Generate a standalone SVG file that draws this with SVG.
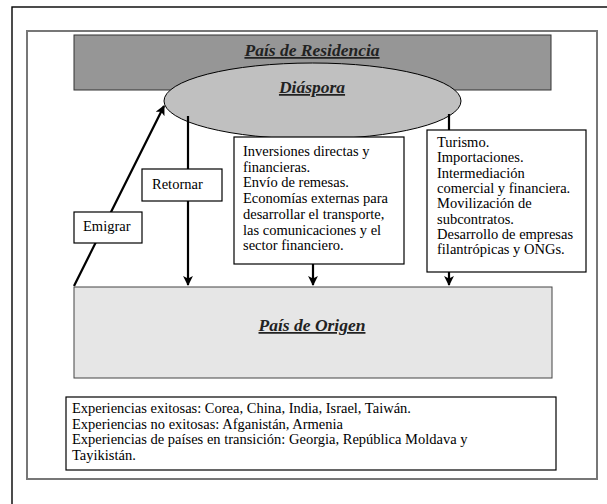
<svg xmlns="http://www.w3.org/2000/svg" width="607" height="504" viewBox="0 0 607 504">
<defs>
<style>
.t{font-family:'Liberation Serif','Times New Roman',serif;font-size:14.5px;fill:#000}
.h{font-family:'Liberation Serif','Times New Roman',serif;font-size:17.5px;font-weight:bold;font-style:italic;text-decoration:underline;fill:#222;text-anchor:middle}
.box{fill:#fff;stroke:#000;stroke-width:1.2}
.ln{stroke:#000;stroke-width:2.2;fill:none}
</style>
<marker id="ah" viewBox="0 0 10 10" refX="9" refY="5" markerWidth="4.5" markerHeight="4.5" orient="auto" markerUnits="strokeWidth">
<path d="M0,0 L10,5 L0,10 L2.5,5 z" fill="#000"/>
</marker>
</defs>
<rect x="0" y="0" width="607" height="504" fill="#fff"/>
<rect x="12" y="7" width="610" height="510" fill="none" stroke="#000" stroke-width="1.4"/>
<rect x="27" y="31" width="570" height="448" fill="none" stroke="#777" stroke-width="2"/>

<g id="residencia">
<rect x="74" y="35" width="477" height="55" fill="#969696" stroke="#333" stroke-width="1"/>
<text class="h" x="312" y="56">País de Residencia</text>
</g>
<g id="diaspora">
<ellipse cx="312.5" cy="101" rx="148.5" ry="38" fill="#c0c0c0" stroke="#000" stroke-width="1"/>
<text class="h" x="312" y="93">Diáspora</text>
</g>
<g id="origen">
<rect x="74" y="287" width="478" height="91" fill="#e6e6e6" stroke="#444" stroke-width="1"/>
<text class="h" x="312" y="331">País de Origen</text>
</g>

<g id="connectors">
<line class="ln" x1="74" y1="286" x2="164" y2="106" marker-end="url(#ah)"/>
<line class="ln" x1="188" y1="116" x2="188" y2="285" marker-end="url(#ah)"/>
<line class="ln" x1="313" y1="264" x2="313" y2="285" marker-end="url(#ah)"/>
<line class="ln" x1="449" y1="114" x2="449" y2="130"/>
<line class="ln" x1="449" y1="272" x2="449" y2="285" marker-end="url(#ah)"/>
</g>

<g id="emigrar">
<rect class="box" x="74" y="212" width="68" height="31"/>
<text class="t" x="83" y="231">Emigrar</text>
</g>
<g id="retornar">
<rect class="box" x="142" y="169" width="80" height="32"/>
<text class="t" x="152" y="189">Retornar</text>
</g>
<g id="inversiones">
<rect class="box" x="234" y="137" width="170" height="127"/>
<text class="t" x="243" y="156">Inversiones directas y</text>
<text class="t" x="243" y="171.7">financieras.</text>
<text class="t" x="243" y="187.4">Envío de remesas.</text>
<text class="t" x="243" y="203.1">Economías externas para</text>
<text class="t" x="243" y="218.8">desarrollar el transporte,</text>
<text class="t" x="243" y="234.5">las comunicaciones y el</text>
<text class="t" x="243" y="250.2">sector financiero.</text>
</g>
<g id="turismo">
<rect class="box" x="427" y="130" width="159" height="142"/>
<text class="t" x="437" y="147">Turismo.</text>
<text class="t" x="437" y="162.3">Importaciones.</text>
<text class="t" x="437" y="177.6">Intermediación</text>
<text class="t" x="437" y="192.9">comercial y financiera.</text>
<text class="t" x="437" y="208.2">Movilización de</text>
<text class="t" x="437" y="223.5">subcontratos.</text>
<text class="t" x="437" y="238.8">Desarrollo de empresas</text>
<text class="t" x="437" y="254.1">filantrópicas y ONGs.</text>
</g>
<g id="experiencias">
<rect class="box" x="66" y="397" width="490" height="73"/>
<text class="t" x="72" y="413">Experiencias exitosas: Corea, China, India, Israel, Taiwán.</text>
<text class="t" x="72" y="428.5">Experiencias no exitosas: Afganistán, Armenia</text>
<text class="t" x="72" y="444">Experiencias de países en transición: Georgia, República Moldava y</text>
<text class="t" x="72" y="459.5">Tayikistán.</text>
</g>
</svg>
